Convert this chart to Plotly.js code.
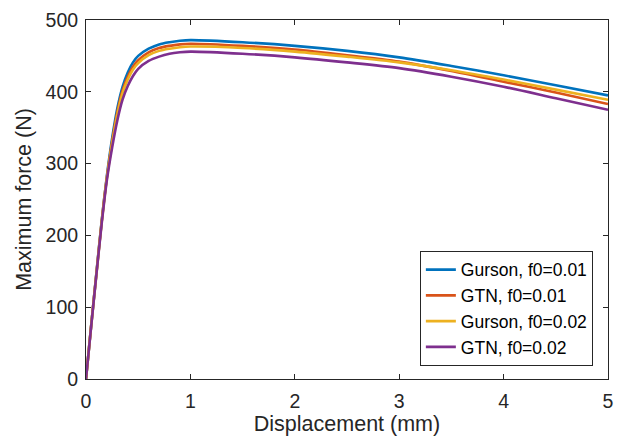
<!DOCTYPE html>
<html>
<head>
<meta charset="utf-8">
<script src="https://cdn.plot.ly/plotly-3.0.1.min.js"></script>
<style>html,body{margin:0;padding:0;background:#fff;}#chart{width:624px;height:445px;}</style>
</head>
<body>
<div id="chart"></div>
<script>
const displacement = [0, 0.05, 0.1, 0.15, 0.2, 0.25, 0.3, 0.35, 0.4, 0.45, 0.5, 0.6, 0.7, 0.8, 0.9, 1.0, 1.5, 2.0, 2.5, 3.0, 3.5, 4.0, 4.5, 5.0];
const gursonF001 = [0, 75, 148, 220, 283, 335, 377, 407, 427, 441, 450, 460, 466, 469, 471, 472, 469, 464, 457, 448, 436, 423, 409, 395];
const gtnF001    = [0, 75, 147, 219, 281, 331, 372, 402, 421, 435, 444, 455, 461, 464, 466, 467, 464, 459, 451, 442, 429, 414, 399, 383];
const gursonF002 = [0, 75, 147, 218, 280, 328, 368, 398, 417, 431, 440, 451, 457, 460, 462, 463, 461, 456, 449, 441, 430, 417, 403, 389];
const gtnF002    = [0, 74, 146, 216, 277, 322, 360, 389, 408, 422, 432, 443, 449, 453, 455, 456, 453, 448, 441, 433, 421, 407, 391, 375];
const seriesNames = ["Gurson, f0=0.01", "GTN, f0=0.01", "Gurson, f0=0.02", "GTN, f0=0.02"];
const seriesData = [gursonF001, gtnF001, gursonF002, gtnF002];
const colors = ["#0072BD", "#D95319", "#EDB120", "#7E2F8E"];

const traces = seriesData.map((ys, i) => ({
  x: displacement, y: ys, type: "scatter", mode: "lines",
  name: seriesNames[i],
  line: {color: colors[i], width: 2.6, shape: "spline", smoothing: 0.8}
}));

const fam = "Liberation Sans, Arial, sans-serif";
const axisCommon = {
  showgrid: false, zeroline: false, showline: true, mirror: "ticks",
  linecolor: "#262626", linewidth: 1, ticks: "inside", ticklen: 5, tickwidth: 1,
  tickcolor: "#262626", tickfont: {family: fam, size: 19.5, color: "#262626"}
};

const layout = {
  width: 624, height: 445,
  margin: {l: 86, r: 16, t: 20, b: 66},
  paper_bgcolor: "#fff", plot_bgcolor: "#fff",
  font: {family: fam, color: "#262626"},
  xaxis: Object.assign({}, axisCommon, {
    range: [0, 5], tickvals: [0, 1, 2, 3, 4, 5], ticklabelstandoff: 5,
    title: {text: "Displacement (mm)", font: {family: fam, size: 21.5, color: "#262626"}, standoff: 4}
  }),
  yaxis: Object.assign({}, axisCommon, {
    range: [0, 500], tickvals: [0, 100, 200, 300, 400, 500], ticklabelstandoff: 3,
    title: {text: "Maximum force (N)", font: {family: fam, size: 21.5, color: "#262626"}, standoff: 8}
  }),
  showlegend: true,
  legend: {
    x: 0.971, y: 0.037, xanchor: "right", yanchor: "bottom",
    bgcolor: "#fff", bordercolor: "#262626", borderwidth: 1,
    font: {family: fam, size: 17.5, color: "#000"}, traceorder: "normal"
  }
};

Plotly.newPlot("chart", traces, layout, {staticPlot: true, displayModeBar: false});
</script>
</body>
</html>
